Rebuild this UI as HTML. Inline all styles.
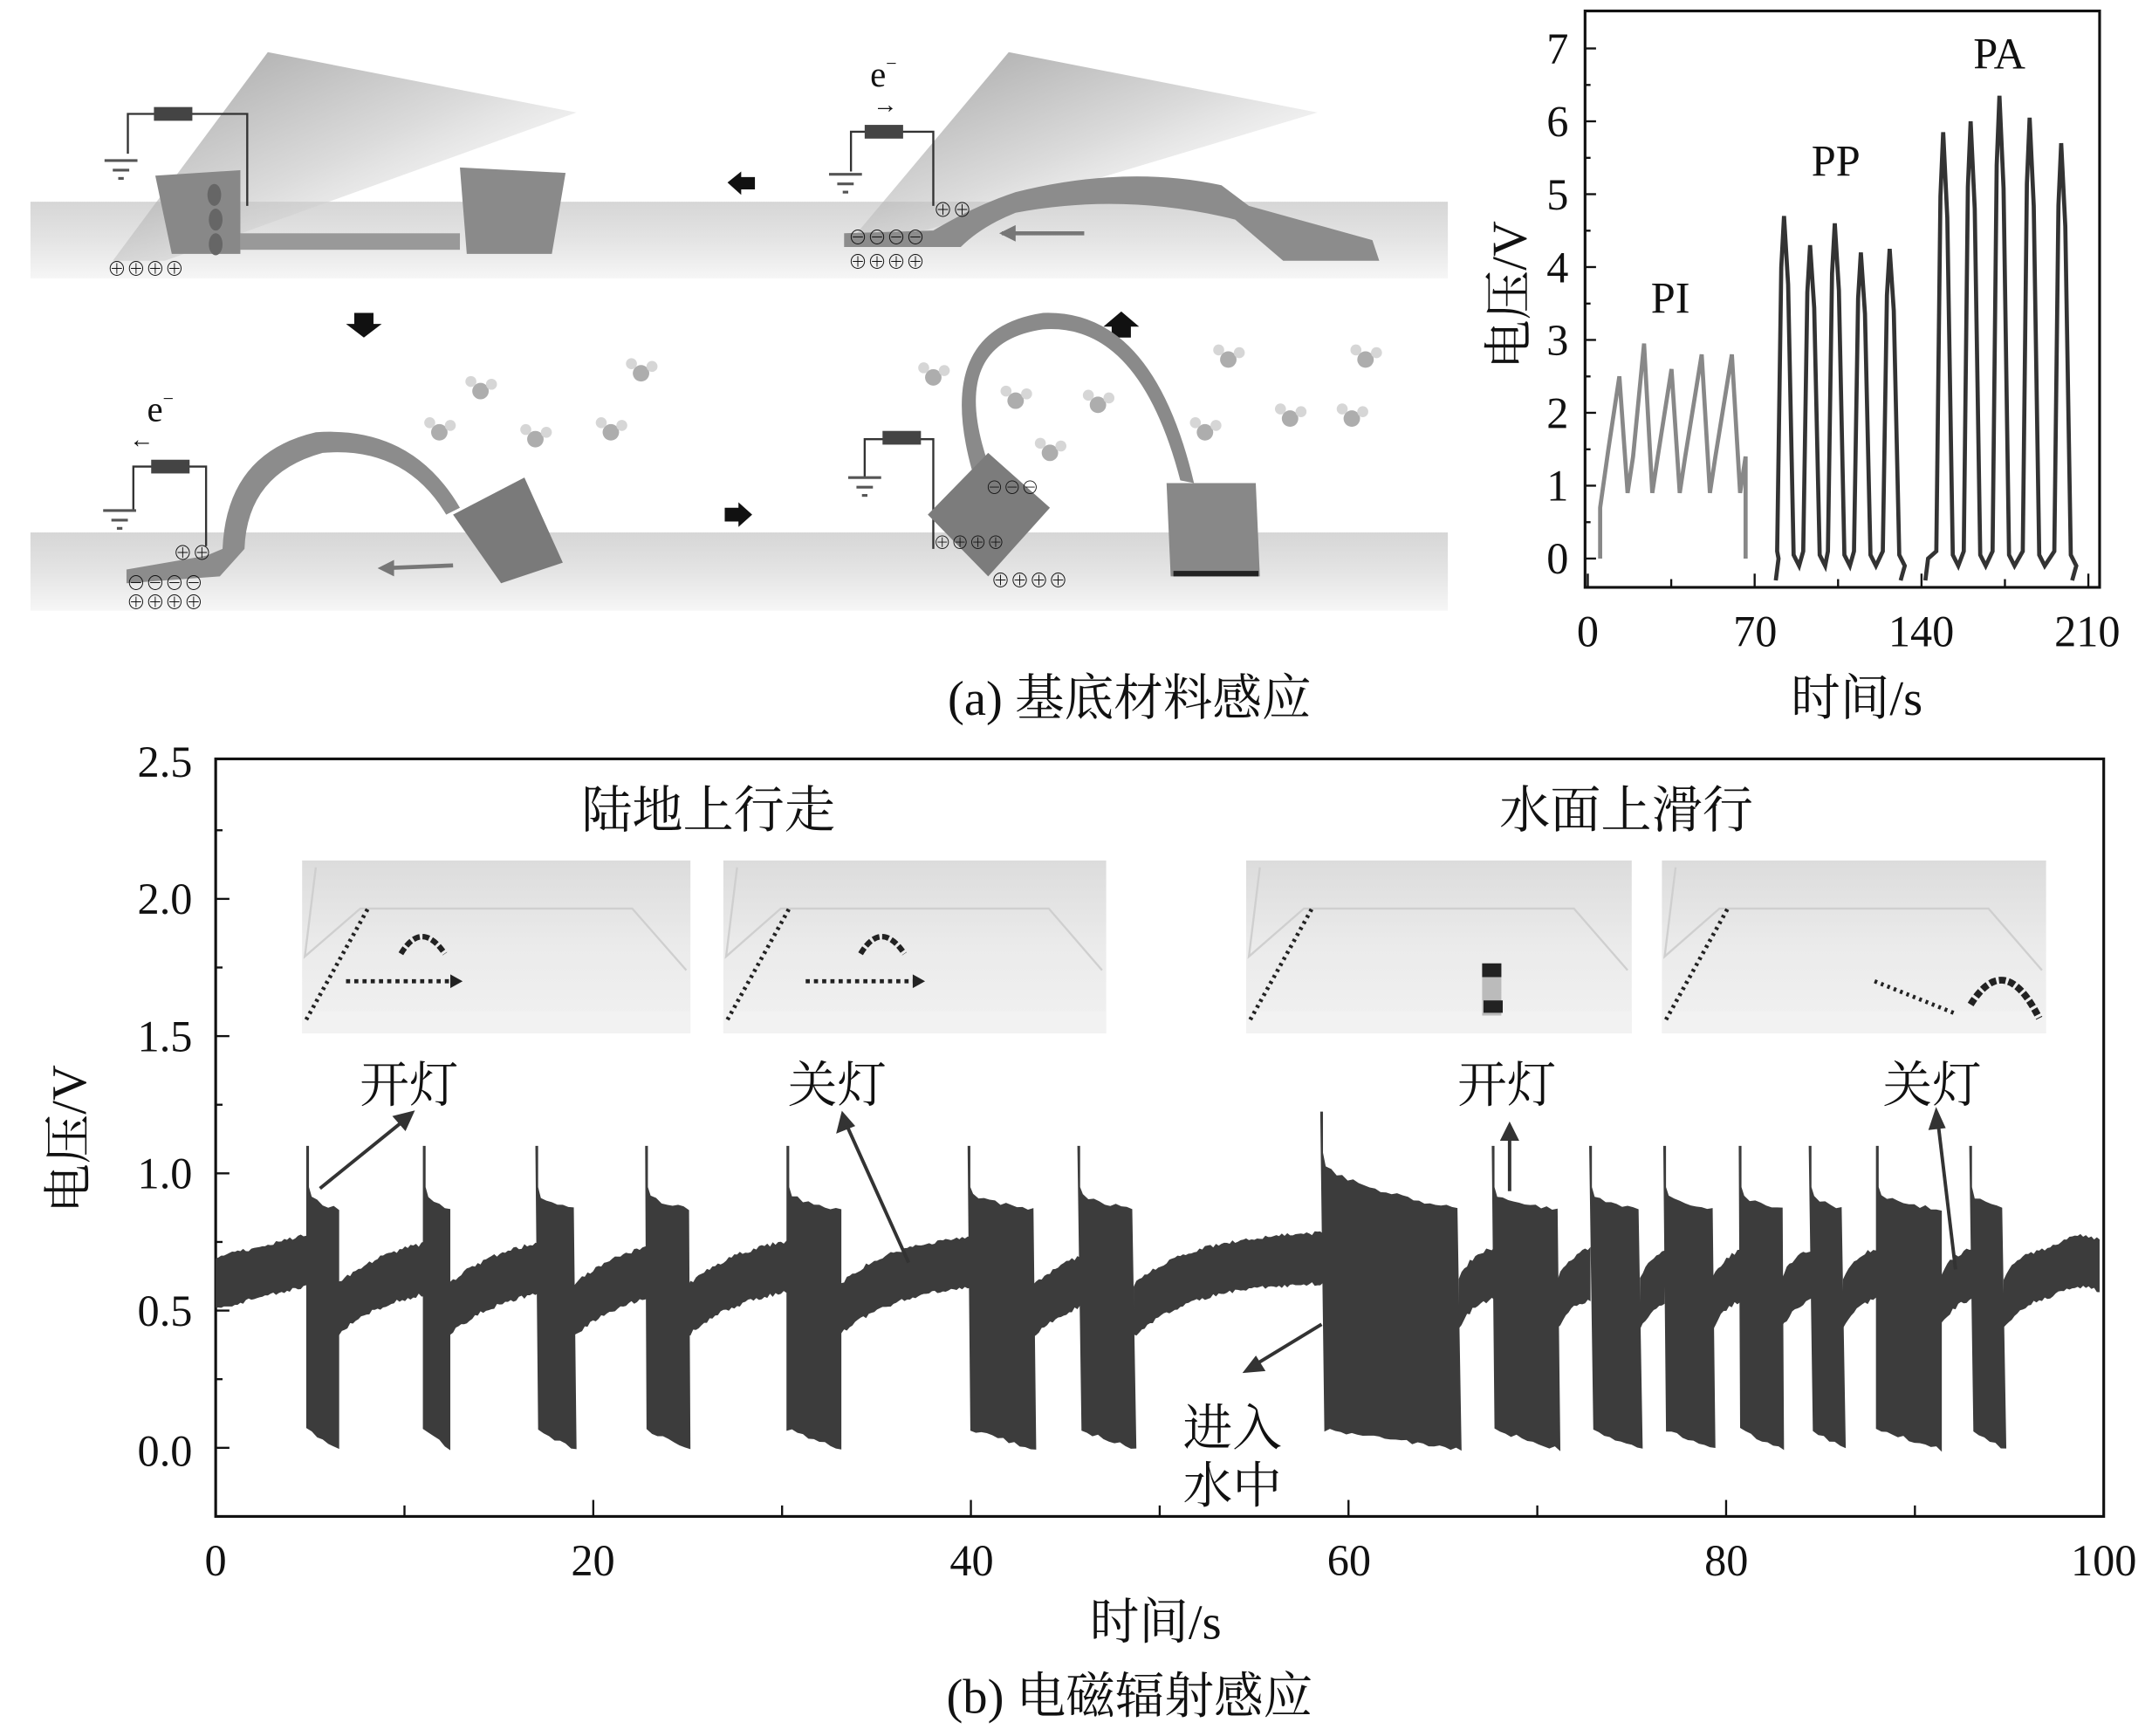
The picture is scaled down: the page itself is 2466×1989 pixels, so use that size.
<!DOCTYPE html>
<html><head><meta charset="utf-8">
<style>
html,body{margin:0;padding:0;background:#fff;}
svg{display:block;}
text{font-family:"Liberation Serif","Noto Serif CJK SC","Noto Sans CJK SC",serif;fill:#111;}
</style></head>
<body>
<svg id="s" width="2466" height="1989" viewBox="0 0 1568 1265" xmlns="http://www.w3.org/2000/svg">
<defs>
<linearGradient id="cone" x1="0" y1="0" x2="1" y2="1">
<stop offset="0" stop-color="#666"/><stop offset="0.5" stop-color="#c4c4c4"/><stop offset="1" stop-color="#fff" stop-opacity="0"/>
</linearGradient>
<linearGradient id="band" x1="0" y1="0" x2="0" y2="1">
<stop offset="0" stop-color="#d6d6d6"/><stop offset="0.5" stop-color="#e4e4e4"/><stop offset="1" stop-color="#f6f6f6"/>
</linearGradient>
<linearGradient id="photo" x1="0" y1="0" x2="0" y2="1">
<stop offset="0" stop-color="#dcdcdc"/><stop offset="0.5" stop-color="#ebebeb"/><stop offset="1" stop-color="#f1f1f1"/>
</linearGradient>
</defs>
<g id="illus">
<rect x="22" y="147" width="1033" height="56" fill="url(#band)"/>
<rect x="22" y="388" width="1033" height="57" fill="url(#band)"/>
<polygon points="195,38 420,82 120,190 82,190" fill="url(#cone)" opacity="0.6"/>
<polygon points="735,38 960,82 650,175 620,175" fill="url(#cone)" opacity="0.6"/>
<polygon points="113,128 175,124 175,185 125,185" fill="#888"/>
<rect x="175" y="170" width="160" height="12" fill="#999"/>
<polygon points="335,122 412,126 402,185 340,185" fill="#8a8a8a"/>
<g fill="#666"><ellipse cx="156" cy="142" rx="5" ry="8"/><ellipse cx="157" cy="160" rx="5" ry="8"/><ellipse cx="157" cy="178" rx="5" ry="8"/></g>
<polyline points="93,112 93,83 180,83 180,150" fill="none" stroke="#333" stroke-width="1.5"/>
<rect x="112" y="78" width="28" height="10" fill="#444"/>
<g stroke="#555" stroke-width="2"><line x1="76" y1="117" x2="100" y2="117"/><line x1="82" y1="124" x2="94" y2="124"/><line x1="86" y1="130" x2="90" y2="130"/></g>
<text x="78" y="201" font-size="14">⊕⊕⊕⊕</text>
<text x="634" y="63" font-size="26">e<tspan font-size="14" dy="-12">−</tspan></text>
<text x="636" y="82" font-size="18" fill="#666">→</text>
<polyline points="620,125 620,96 680,96 680,150" fill="none" stroke="#333" stroke-width="1.5"/>
<rect x="630" y="91" width="28" height="10" fill="#444"/>
<g stroke="#555" stroke-width="2"><line x1="604" y1="127" x2="628" y2="127"/><line x1="610" y1="134" x2="622" y2="134"/><line x1="614" y1="140" x2="618" y2="140"/></g>
<path d="M615,170 L680,168 Q710,150 740,140 Q820,120 890,135 L910,150 L1000,175 L1005,190 L935,190 L900,160 Q820,140 740,155 Q715,165 700,180 L615,180 Z" fill="#8c8c8c"/>
<text x="680" y="158" font-size="14">⊕⊕</text>
<text x="618" y="178" font-size="14" fill="#333">⊖⊖⊖⊖</text>
<text x="618" y="196" font-size="14">⊕⊕⊕⊕</text>
<line x1="790" y1="170" x2="730" y2="170" stroke="#777" stroke-width="3"/><polygon points="728,170 740,164 740,176" fill="#777"/>
<polygon points="530,133 540,125 540,129 550,129 550,138 540,138 540,142" fill="#111"/>
<polygon points="258,228 272,228 272,236 278,236 265,246 252,236 258,236" fill="#111"/>
<polygon points="810,246 824,246 824,238 830,238 817,227 804,238 810,238" fill="#111"/>
<polygon points="548,375 538,366 538,370 528,370 528,380 538,380 538,384" fill="#111"/>
<text x="107" y="307" font-size="26">e<tspan font-size="14" dy="-12">−</tspan></text>
<text x="94" y="326" font-size="18" fill="#666">←</text>
<polyline points="97,372 97,340 150,340 150,398" fill="none" stroke="#333" stroke-width="1.5"/>
<rect x="110" y="335" width="28" height="10" fill="#444"/>
<g stroke="#555" stroke-width="2"><line x1="75" y1="372" x2="99" y2="372"/><line x1="81" y1="379" x2="93" y2="379"/><line x1="85" y1="385" x2="89" y2="385"/></g>
<path d="M92,415 L150,405 L162,400 Q165,330 230,315 Q300,310 335,370 L325,375 Q295,325 235,330 Q180,345 178,400 L160,420 L92,425 Z" fill="#8c8c8c"/>
<polygon points="330,375 382,348 410,410 365,425" fill="#7a7a7a"/>
<text x="126" y="408" font-size="14">⊕⊕</text>
<text x="92" y="430" font-size="14" fill="#333">⊖⊖⊖⊖</text>
<text x="92" y="444" font-size="14">⊕⊕⊕⊕</text>
<line x1="330" y1="412" x2="280" y2="414" stroke="#777" stroke-width="3"/><polygon points="275,414 287,408 287,420" fill="#777"/>
<polyline points="630,348 630,320 680,320 680,400" fill="none" stroke="#333" stroke-width="1.5"/>
<rect x="643" y="314" width="28" height="10" fill="#444"/>
<g stroke="#555" stroke-width="2"><line x1="618" y1="348" x2="642" y2="348"/><line x1="624" y1="355" x2="636" y2="355"/><line x1="628" y1="361" x2="632" y2="361"/></g>
<path d="M720,338 Q690,250 760,240 Q830,235 860,350 L870,352 Q840,225 760,228 Q680,240 708,342 Z" fill="#8a8a8a"/>
<polygon points="676,375 720,330 765,370 720,420" fill="#7c7c7c"/>
<polygon points="850,352 915,352 918,420 853,420" fill="#888"/>
<rect x="855" y="416" width="62" height="4" fill="#222"/>
<text x="680" y="400" font-size="13">⊕⊕⊕⊕</text>
<text x="718" y="360" font-size="13" fill="#333">⊖⊖⊖</text>
<text x="722" y="428" font-size="14">⊕⊕⊕⊕</text>
<g fill="#aaa" opacity="0.8" id="mols"></g>
</g>

<g id="tr">
<rect x="1155" y="8" width="375" height="420" fill="none" stroke="#111" stroke-width="2"/>
<g id="trticks" stroke="#111" stroke-width="1.5"></g>
<g font-size="32" text-anchor="end" id="trlab"></g>
<text x="1157" y="471" font-size="32" text-anchor="middle">0</text>
<text x="1279" y="471" font-size="32" text-anchor="middle">70</text>
<text x="1400" y="471" font-size="32" text-anchor="middle">140</text>
<text x="1521" y="471" font-size="32" text-anchor="middle">210</text>
<text x="1353" y="521" font-size="36" text-anchor="middle">时间/s</text>
<text transform="translate(1112,215) rotate(-90)" font-size="36" text-anchor="middle">电压/V</text>
<text x="1203" y="228" font-size="32">PI</text>
<text x="1320" y="128" font-size="32">PP</text>
<text x="1438" y="50" font-size="32">PA</text>
<polyline id="pi" fill="none" stroke="#888" stroke-width="3"/>
<polyline id="pp" fill="none" stroke="#333" stroke-width="3"/>
<polyline id="pa" fill="none" stroke="#333" stroke-width="3"/>
</g>

<text x="823" y="521" font-size="36" text-anchor="middle">(a) 基底材料感应</text>

<g id="bc">
<rect x="157" y="553" width="1376" height="552" fill="none" stroke="#111" stroke-width="2"/>
<g id="bticks" stroke="#111" stroke-width="1.5"></g>
<g font-size="32" text-anchor="end">
<text x="140" y="566">2.5</text><text x="140" y="666">2.0</text><text x="140" y="766">1.5</text>
<text x="140" y="866">1.0</text><text x="140" y="966">0.5</text><text x="140" y="1068">0.0</text>
</g>
<g font-size="32" text-anchor="middle">
<text x="157" y="1148">0</text><text x="432" y="1148">20</text><text x="708" y="1148">40</text>
<text x="983" y="1148">60</text><text x="1258" y="1148">80</text><text x="1533" y="1148">100</text>
</g>
<text x="842" y="1194" font-size="36" text-anchor="middle">时间/s</text>
<text transform="translate(62,830) rotate(-90)" font-size="36" text-anchor="middle">电压/V</text>
<g id="wave" fill="#3c3c3c"></g>
<g id="photos"></g>
<text x="516" y="603" font-size="37" text-anchor="middle">陆地上行走</text>
<text x="1185" y="603" font-size="37" text-anchor="middle">水面上滑行</text>
<g font-size="36" text-anchor="middle">
<text x="298" y="803">开灯</text><text x="610" y="803">关灯</text>
<text x="1098" y="803">开灯</text><text x="1408" y="803">关灯</text>
<text x="898" y="1053">进入</text><text x="898" y="1095">水中</text>
</g>
<g stroke="#333" stroke-width="2.5" fill="#333">
<line x1="233" y1="866" x2="296" y2="815"/><polygon points="300,811 288,814 295,822"/>
<line x1="662" y1="920" x2="616" y2="818"/><polygon points="614,812 611,824 621,820"/>
<line x1="963" y1="965" x2="912" y2="996"/><polygon points="908,999 920,998 915,990"/>
<line x1="1100" y1="868" x2="1100" y2="826"/><polygon points="1100,820 1095,830 1105,830"/>
<line x1="1425" y1="925" x2="1412" y2="816"/><polygon points="1411,810 1407,822 1416,821"/>
</g>
</g>
<text x="823" y="1248" font-size="36" text-anchor="middle">(b) 电磁辐射感应</text>
</svg>
<script>
var NS="http://www.w3.org/2000/svg";
function el(p,t,a){var e=document.createElementNS(NS,t);for(var k in a)e.setAttribute(k,a[k]);p.appendChild(e);return e;}
var g;
g=document.getElementById('mols');
[[350,285],[467,272],[390,320],[320,315],[445,315],[680,275],[740,292],[800,295],[895,262],[995,262],[765,330],[878,315],[940,305],[985,305]].forEach(function(m){
el(g,'circle',{cx:m[0],cy:m[1],r:6,fill:'#999'});el(g,'circle',{cx:m[0]-7,cy:m[1]-7,r:4,fill:'#ccc'});el(g,'circle',{cx:m[0]+8,cy:m[1]-5,r:4,fill:'#ccc'});});
g=document.getElementById('trticks');var lab=document.getElementById('trlab');
for(var v=0;v<=7;v++){var y=407-53.1*v;el(g,'line',{x1:1155,y1:y,x2:1163,y2:y});
var t=el(lab,'text',{x:1143,y:y+11});t.textContent=v;
if(v<7){var y2=y-26.5;el(g,'line',{x1:1155,y1:y2,x2:1159,y2:y2});}}
for(var i=0;i<=6;i++){var x=1157+i*60.8;el(g,'line',{x1:x,y1:428,x2:x,y2:i%2?422:418});}
function Y(v){return 407-53.1*v;}
var pts=[[1166,Y(0)],[1166,Y(0.7)],[1172,Y(1.5)]];var pk=[[1180,2.5],[1198,2.95],[1218,2.6],[1240,2.8],[1262,2.8]];
pk.forEach(function(p,i){pts.push([p[0],Y(p[1])]);pts.push([p[0]+6,Y(0.9)]);pts.push([p[0]+10,Y(1.4)]);});
pts.push([1272,Y(0.0)]);
document.getElementById('pi').setAttribute('points',pts.map(function(p){return p.join(',')}).join(' '));
function peaks(x0,x1,list){var a=[[x0,Y(-0.3)],[x0+2,Y(0)]];list.forEach(function(p){a.push([p[0]-5,Y(0.1)]);a.push([p[0]-2,Y(p[1]*0.85)]);a.push([p[0],Y(p[1])]);a.push([p[0]+3,Y(p[1]*0.8)]);a.push([p[0]+7,Y(0.05)]);a.push([p[0]+11,Y(-0.1)]);});a.push([x1,Y(-0.3)]);return a.map(function(p){return p.join(',')}).join(' ');}
document.getElementById('pp').setAttribute('points',peaks(1294,1385,[[1300,4.7],[1319,4.3],[1337,4.6],[1356,4.2],[1377,4.25]]));
document.getElementById('pa').setAttribute('points',peaks(1403,1510,[[1416,5.85],[1436,6.0],[1457,6.35],[1479,6.05],[1502,5.7]]));
g=document.getElementById('bticks');
for(var k=-0.25;k<2.5;k+=0.25){var y=1055-200*k;el(g,'line',{x1:157,y1:y,x2:(Math.abs(k*2-Math.round(k*2))<0.01)?167:162,y2:y});}
for(var i=0;i<=10;i++){var x=157+137.6*i;el(g,'line',{x1:x,y1:1105,x2:x,y2:i%2?1097:1093});}
g=document.getElementById('wave');
var bursts=[[223,247],[308,328],[390,420],[470,503],[573,613],[705,755],[785,828],[962,1065],[1087,1137],[1158,1197],[1212,1250],[1267,1300],[1318,1345],[1367,1415],[1435,1462]];
var prevEnd=159;var segs=[];
bursts.forEach(function(b){segs.push([prevEnd-2,b[0]+2]);prevEnd=b[1];});segs.push([prevEnd-2,1531]);
segs.forEach(function(s,i){var up=[],dn=[];var L=s[1]-s[0];for(var x=s[0];x<=s[1];x+=2){var d=x-s[0];var c;
if(i==0)c=935-0.25*d; else if(i>=8&&i<segs.length-1) c=950-25*(1-Math.exp(-d/12)); else c=955-40*(1-Math.exp(-d/45));
if(i==segs.length-1){c=950-25*(1-Math.exp(-d/15));if(d>35)c=925+6*Math.sin(d/12);}
var h=17+Math.random()*3;up.push(x+','+(c-h).toFixed(1));dn.unshift(x+','+(c+h).toFixed(1));}
el(g,'polygon',{points:up.concat(dn).join(' ')});});
bursts.forEach(function(b,i){var big=b[1]-b[0]>80;var t0=big?840:865,t1=big?880:880;
var p=[b[0]+','+(t0-30),(b[0]+2)+','+(t0-30),(b[0]+2)+','+t0];
for(var x=b[0]+4;x<=b[1];x+=4){var f=(x-b[0])/(b[1]-b[0]);p.push(x+','+(t0+(t1-t0)*Math.sqrt(f)+Math.random()*3).toFixed(1));}
for(var x=b[1];x>=b[0];x-=4){var f=(x-b[0])/(b[1]-b[0]);p.push(x+','+(1040+15*f+Math.random()*3).toFixed(1));}
el(g,'polygon',{points:p.join(' ')});});
g=document.getElementById('photos');
[[220,627,283],[527,627,279],[908,627,281],[1211,627,280]].forEach(function(r,i){
var x=r[0],y=r[1],w=r[2],h=126;
el(g,'rect',{x:x,y:y,width:w,height:h,fill:'url(#photo)'});
el(g,'polyline',{points:(x+10)+','+(y+5)+' '+(x+2)+','+(y+70)+' '+(x+w*0.15)+','+(y+35)+' '+(x+w*0.85)+','+(y+35)+' '+(x+w-3)+','+(y+80),fill:'none',stroke:'#cfcfcf','stroke-width':1.5});
el(g,'rect',{x:x,y:y+h-16,width:w,height:16,fill:'#f2f2f2'});
el(g,'line',{x1:x+3,y1:y+h-10,x2:x+48,y2:y+35,stroke:'#222','stroke-width':3,'stroke-dasharray':'2,3'});
if(i<2){el(g,'line',{x1:x+32+(i?28:0),y1:y+88,x2:x+110+(i?30:0),y2:y+88,stroke:'#222','stroke-width':3,'stroke-dasharray':'3,3'});
el(g,'polygon',{points:(x+117+(i?30:0))+','+(y+88)+' '+(x+108+(i?30:0))+','+(y+83)+' '+(x+108+(i?30:0))+','+(y+93),fill:'#222'});
el(g,'path',{d:'M'+(x+72+(i?28:0))+','+(y+68)+' q15,-25 32,0',fill:'none',stroke:'#222','stroke-width':4,'stroke-dasharray':'5,2'});}
else if(i==2){el(g,'rect',{x:x+172,y:y+75,width:14,height:38,fill:'#bbb'});el(g,'rect',{x:x+172,y:y+75,width:14,height:10,fill:'#222'});el(g,'rect',{x:x+173,y:y+102,width:14,height:9,fill:'#222'});}
else{el(g,'line',{x1:x+155,y1:y+88,x2:x+215,y2:y+112,stroke:'#222','stroke-width':3,'stroke-dasharray':'2,3'});
el(g,'path',{d:'M'+(x+225)+','+(y+105)+' q25,-40 50,10',fill:'none',stroke:'#222','stroke-width':5,'stroke-dasharray':'5,2'});}
});
</script>
</body></html>
